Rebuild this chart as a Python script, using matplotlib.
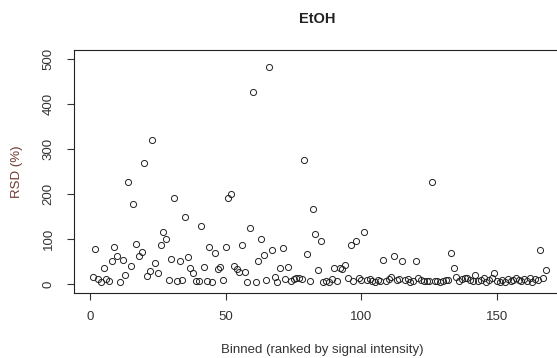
import matplotlib
matplotlib.use('Agg')
import matplotlib.pyplot as plt
import numpy as np

plt.rcParams['font.family'] = ['Liberation Sans', 'DejaVu Sans']

# RSD per bin, bins ranked by signal intensity (1..168)
rsd = [17, 78, 11, 4, 37, 12, 7, 52, 83, 63,
       6, 55, 21, 228, 41, 178, 89, 62, 72, 269,
       19, 30, 321, 48, 24, 87, 115, 101, 10, 57,
       192, 7, 52, 9, 150, 61, 37, 25, 7, 7,
       130, 39, 7, 83, 6, 69, 34, 39, 9, 83,
       192, 201, 41, 35, 27, 88, 27, 6, 126, 426,
       6, 52, 101, 66, 9, 483, 75, 16, 6, 37,
       81, 12, 39, 7, 11, 13, 15, 11, 276, 68,
       7, 166, 111, 32, 96, 4, 8, 4, 12, 37,
       7, 37, 35, 42, 14, 87, 7, 97, 13, 9,
       115, 9, 11, 8, 4, 9, 8, 55, 8, 12,
       17, 63, 10, 12, 52, 9, 12, 6, 8, 52,
       13, 9, 7, 7, 8, 228, 7, 7, 6, 8,
       9, 10, 69, 37, 17, 8, 12, 13, 15, 10,
       7, 20, 8, 9, 13, 6, 10, 15, 25, 7,
       4, 10, 6, 12, 8, 9, 14, 10, 7, 12,
       8, 14, 6, 12, 10, 75, 15, 32]
bins = np.arange(1, len(rsd) + 1)

xticks = [0, 50, 100, 150]
yticks = [0, 100, 200, 300, 400, 500]

fig = plt.figure(figsize=(5.57, 3.58), dpi=100)
# plot region runs past the right edge of the figure
ax = fig.add_axes([74/557, 64.7/358, 495.8/557, 243.3/358])

ax.plot(bins, rsd, linestyle='none', marker='o', markersize=4.4,
        markerfacecolor='none', markeredgecolor='#222222', markeredgewidth=0.7)

# R-like limits: 4% padding
ax.set_xlim(-5.9, 176.8)
ax.set_ylim(-20, 520)
ax.set_xticks(xticks)
ax.set_yticks(yticks)
ax.set_yticklabels([str(t) for t in yticks], rotation=90, va='center')
ax.tick_params(direction='out', length=5, width=0.8, color='#333333',
               labelsize=9.5, labelcolor='#333333')
ax.tick_params(axis='x', pad=8)
ax.tick_params(axis='y', pad=9)
for s in ax.spines.values():
    s.set_color('#222222')
    s.set_linewidth(0.8)

ax.set_xlabel("Binned (ranked by signal intensity)", fontsize=9.5,
              color='#333333', labelpad=15)
ax.set_ylabel("RSD (%)", fontsize=9.5, color='#6e3a30', labelpad=14)
fig.text(317/557, 1 - 19/358, "EtOH", ha='center', va='center',
         fontsize=10.5, fontweight='bold', color='#222222')

plt.savefig("out.png", dpi=100)
